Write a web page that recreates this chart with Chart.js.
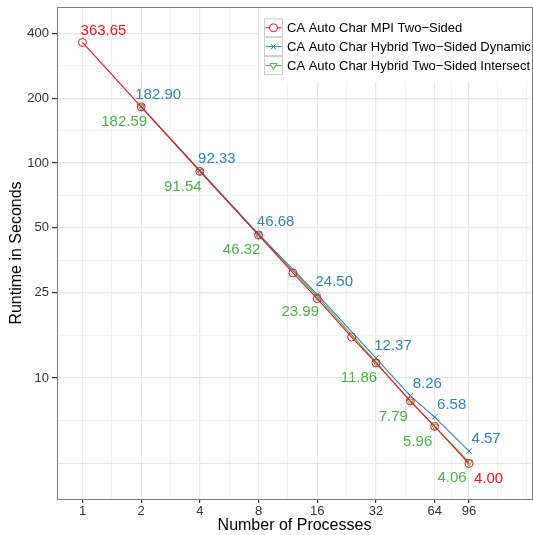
<!DOCTYPE html>
<html>
<head>
<meta charset="utf-8">
<script src="https://cdn.jsdelivr.net/npm/chart.js@4/dist/chart.umd.min.js"></script>
<style>
  html, body { margin: 0; padding: 0; background: #fff; }
  #wrap { width: 533px; height: 535px; }
</style>
</head>
<body>
<div id="wrap"><canvas id="runtimeChart" width="533" height="535"></canvas></div>
<script>
// number of processes for each run
const mpiProcs = [1, 2, 4, 8, 12, 16, 24, 32, 48, 64, 96];
const hybridProcs = [2, 4, 8, 16, 32, 48, 64, 96];

// runtime in seconds
const mpiTimes = [363.65, 182.5, 91.4, 46.2, 30.8, 23.4, 15.5, 11.75, 7.82, 5.95, 4.00];
const dynamicTimes = [182.90, 92.33, 46.68, 24.50, 12.37, 8.26, 6.58, 4.57];
const intersectTimes = [182.59, 91.54, 46.32, 23.99, 11.86, 7.79, 5.96, 4.06];

// only first and last MPI point get a value label
const mpiLabelIdx = [0, 10];

const seriesNames = [
  'CA Auto Char MPI Two\u2212Sided',
  'CA Auto Char Hybrid Two\u2212Sided Dynamic',
  'CA Auto Char Hybrid Two\u2212Sided Intersect'
];

// axis breaks
const xTicks = [1, 2, 4, 8, 16, 32, 64, 96];
const xMinor = [1.414, 2.828, 5.657, 11.31, 22.63, 45.25, 78.38, 135, 190];
const yTicks = [10, 25, 50, 100, 200, 400];
const yMinor = [4, 6.32, 15.81, 35.36, 70.71, 141.4, 282.8];

const RED = '#E41A1C';
const BLUE = '#377EB8';
const GREEN = '#4DAF4A';
const FONT = '"Liberation Sans", Arial, Helvetica, sans-serif';

const toPoints = (xs, ys) => xs.map((x, i) => ({ x: x, y: ys[i] }));

const breaks = (major, minor) => (scale) => {
  scale.ticks = major.concat(minor)
    .filter(v => v >= scale.min && v <= scale.max)
    .sort((a, b) => a - b)
    .map(v => ({ value: v }));
};

const noPad = (s) => {
  s.paddingTop = 0;
  s.paddingBottom = 0;
  s.paddingLeft = 0;
  s.paddingRight = 0;
};

const isMain = (list, ctx) => ctx.tick && list.includes(ctx.tick.value);

// value labels next to points
const valueLabels = {
  id: 'valueLabels',
  afterDatasetsDraw(chart) {
    const ctx = chart.ctx;
    const xs = chart.scales.x, ys = chart.scales.y;
    ctx.save();
    ctx.font = '15px ' + FONT;
    ctx.textAlign = 'center';
    ctx.textBaseline = 'middle';
    const put = (x, y, color, dx, dy) => {
      ctx.fillStyle = color;
      ctx.fillText(y.toFixed(2), xs.getPixelForValue(x) + dx, ys.getPixelForValue(y) + dy);
    };
    hybridProcs.forEach((p, i) => put(p, dynamicTimes[i], BLUE, 17, -12));
    hybridProcs.forEach((p, i) => put(p, intersectTimes[i], GREEN, -17, 15.5));
    put(mpiProcs[mpiLabelIdx[0]], mpiTimes[mpiLabelIdx[0]], RED, 21, -12);
    put(mpiProcs[mpiLabelIdx[1]], mpiTimes[mpiLabelIdx[1]], RED, 19.5, 15);
    ctx.restore();
  }
};

// panel border + legend in the top right corner
const panelDecor = {
  id: 'panelDecor',
  beforeDatasetsDraw(chart) {
    const a = chart.chartArea;
    const ctx = chart.ctx;
    ctx.save();
    ctx.strokeStyle = '#7f7f7f';
    ctx.lineWidth = 1;
    ctx.strokeRect(a.left + 0.5, a.top + 0.5, a.right - a.left, a.bottom - a.top);
    ctx.restore();
  },
  afterDraw(chart) {
    const a = chart.chartArea;
    const ctx = chart.ctx;
    const left = a.right - 268, top = a.top + 11.3;
    const keyW = 19, rowH = 18.9;
    ctx.save();
    ctx.fillStyle = '#fff';
    ctx.fillRect(left - 5, a.top + 1, a.right - left + 4, 74);
    chart.data.datasets.forEach((ds, i) => {
      const y = top + i * rowH;
      ctx.fillStyle = '#fff';
      ctx.fillRect(left, y, keyW, rowH);
      ctx.strokeStyle = '#cccccc';
      ctx.lineWidth = 1;
      ctx.strokeRect(left + 0.5, y + 0.5, keyW - 1, rowH - 1);
      const cy = y + rowH / 2;
      ctx.strokeStyle = ds.borderColor;
      ctx.beginPath();
      ctx.moveTo(left + 1.5, cy);
      ctx.lineTo(left + keyW - 1.5, cy);
      ctx.stroke();
      ctx.lineWidth = 1;
      Chart.helpers.drawPoint(ctx, {
        pointStyle: ds.pointStyle,
        rotation: ds.pointRotation || 0,
        radius: ds.pointRadius,
        borderWidth: 1
      }, left + keyW / 2, cy);
      ctx.fillStyle = '#000';
      ctx.font = '13px ' + FONT;
      ctx.textAlign = 'left';
      ctx.textBaseline = 'middle';
      ctx.fillText(ds.label, left + keyW + 4, cy + 0.5);
    });
    ctx.restore();
  }
};

const baseSet = (label, data, color, style, rotation) => ({
  label: label,
  data: data,
  borderColor: color,
  backgroundColor: color,
  borderWidth: 1.1,
  pointStyle: style,
  pointRotation: rotation,
  pointRadius: 4,
  pointBorderWidth: 1,
  pointBorderColor: color,
  pointBackgroundColor: 'rgba(0,0,0,0)',
  tension: 0,
  fill: false
});

new Chart(document.getElementById('runtimeChart'), {
  type: 'line',
  data: {
    datasets: [
      baseSet(seriesNames[0], toPoints(mpiProcs, mpiTimes), RED, 'circle', 0),
      baseSet(seriesNames[1], toPoints(hybridProcs, dynamicTimes), BLUE, 'crossRot', 0),
      baseSet(seriesNames[2], toPoints(hybridProcs, intersectTimes), GREEN, 'triangle', 180)
    ]
  },
  options: {
    responsive: false,
    animation: false,
    events: [],
    layout: { autoPadding: false, padding: { top: 7, right: 1, bottom: 0, left: 0 } },
    plugins: {
      legend: { display: false },
      tooltip: { enabled: false }
    },
    scales: {
      x: {
        type: 'logarithmic',
        bounds: 'data',
        min: 0.74,
        max: 202,
        afterBuildTicks: breaks(xTicks, xMinor),
        afterFit: (s) => { s.height = 36; noPad(s); },
        ticks: {
          autoSkip: false,
          maxRotation: 0,
          padding: 1,
          color: '#333',
          font: { family: FONT, size: 13 },
          callback: (v) => xTicks.includes(v) ? String(v) : ''
        },
        grid: {
          color: (c) => isMain(xTicks, c) ? '#e6e6e6' : '#f3f3f3',
          lineWidth: (c) => isMain(xTicks, c) ? 1.2 : 1,
          tickLength: 4,
          tickColor: (c) => isMain(xTicks, c) ? '#333' : 'rgba(0,0,0,0)'
        },
        border: { display: false },
        title: {
          display: true,
          text: 'Number of Processes',
          color: '#000',
          font: { family: FONT, size: 16 },
          padding: { top: 0, bottom: 0 }
        }
      },
      y: {
        type: 'logarithmic',
        bounds: 'data',
        min: 2.735,
        max: 531.7,
        afterBuildTicks: breaks(yTicks, yMinor),
        afterFit: (s) => { s.width = 57; noPad(s); },
        ticks: {
          autoSkip: false,
          padding: 3,
          color: '#333',
          font: { family: FONT, size: 13 },
          callback: (v) => yTicks.includes(v) ? String(v) : ''
        },
        grid: {
          color: (c) => (isMain(yTicks, c) || (c.tick && c.tick.value === 4)) ? '#e6e6e6' : '#f3f3f3',
          lineWidth: (c) => isMain(yTicks, c) ? 1.2 : 1,
          tickLength: 5,
          tickColor: (c) => isMain(yTicks, c) ? '#333' : 'rgba(0,0,0,0)'
        },
        border: { display: false },
        title: {
          display: true,
          text: 'Runtime in Seconds',
          color: '#000',
          font: { family: FONT, size: 16 },
          padding: { top: 7, bottom: 0 }
        }
      }
    }
  },
  plugins: [panelDecor, valueLabels]
});
</script>
</body>
</html>
